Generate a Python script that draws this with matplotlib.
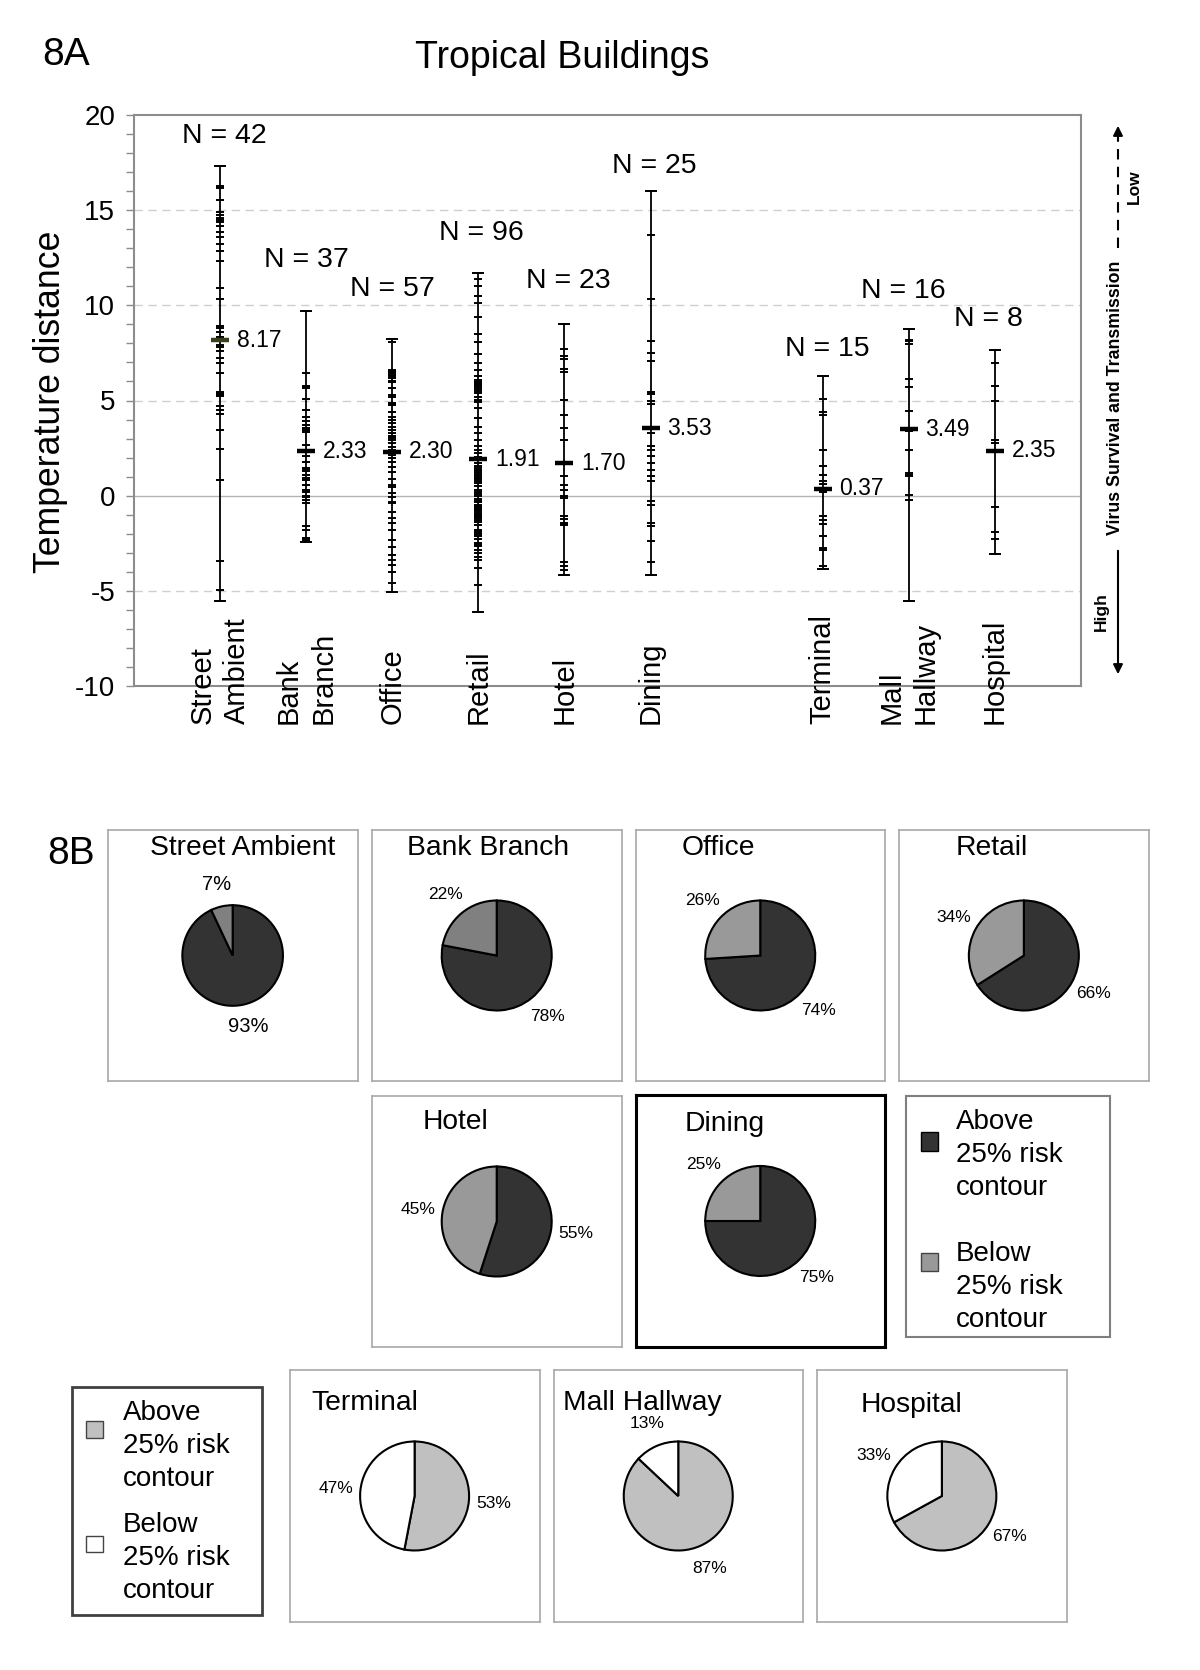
import numpy as np
import matplotlib
matplotlib.use('Agg')
import matplotlib.pyplot as plt
from matplotlib.ticker import MultipleLocator
from matplotlib.patches import Rectangle, FancyArrowPatch
from matplotlib.lines import Line2D

plt.rcParams['font.family'] = ['Liberation Sans', 'DejaVu Sans']
plt.rcParams['axes.unicode_minus'] = False

# ---------------- data: 8A ----------------
categories = ['Street\nAmbient', 'Bank\nBranch', 'Office', 'Retail', 'Hotel',
              'Dining', 'Terminal', 'Mall\nHallway', 'Hospital']
n_counts = [42, 37, 57, 96, 23, 25, 15, 16, 8]
means = [8.17, 2.33, 2.30, 1.91, 1.70, 3.53, 0.37, 3.49, 2.35]

street_ambient = [17.33, 16.29, 16.22, 16.19, 15.56, 14.88, 14.76, 14.58, 14.5, 14.4,
                  14.15, 13.83, 13.57, 13.2, 12.85, 12.33, 10.93, 10.35, 8.9, 8.8,
                  8.62, 8.35, 7.94, 7.83, 7.6, 7.22, 6.95, 6.43, 5.43, 5.38, 5.35,
                  5.3, 5.24, 4.7, 4.5, 4.3, 3.45, 2.45, 0.84, -3.42, -4.95, -5.55]
bank_branch = [9.71, 6.47, 5.77, 5.72, 5.69, 5.65, 5.06, 4.5, 4.15, 3.9, 3.71, 3.55,
               3.45, 3.36, 2.64, 2.4, 2.08, 1.79, 1.44, 1.38, 1.31, 1.09, 0.95, 0.82,
               0.56, 0.3, 0.21, 0.0, -0.05, -0.23, -0.4, -1.6, -1.8, -2.24, -2.3,
               -2.36, -2.41]
office = [8.22, 8.05, 6.62, 6.57, 6.5, 6.43, 6.35, 6.3, 6.16, 6.05, 5.99, 5.64, 5.29,
          5.17, 4.85, 4.8, 4.78, 4.76, 4.4, 4.15, 3.98, 3.8, 3.63, 3.45, 3.27, 3.15,
          3.1, 3.01, 2.9, 2.78, 2.57, 2.4, 2.22, 2.14, 1.96, 1.79, 1.5, 1.26, 0.86,
          0.55, 0.47, 0.12, -0.05, -0.32, -0.4, -0.84, -1.19, -1.45, -1.8, -2.33,
          -2.7, -3.12, -3.38, -3.64, -4.0, -4.6, -5.05]
retail = [11.68, 11.4, 11.02, 10.49, 10.14, 9.4, 8.47, 8.07, 7.42, 6.98, 6.6, 6.28,
          6.1, 6.0, 5.95, 5.92, 5.85, 5.8, 5.75, 5.7, 5.6, 5.5, 5.4, 5.2, 5.05, 5.0,
          4.96, 4.9, 4.6, 4.09, 3.6, 3.3, 2.95, 2.6, 2.4, 2.25, 2.05, 1.93, 1.85,
          1.72, 1.54, 1.45, 1.37, 1.3, 1.2, 1.1, 1.02, 0.95, 0.85, 0.75, 0.67, 0.49,
          0.32, 0.2, 0.1, -0.04, -0.15, -0.3, -0.35, -0.47, -0.56, -0.6, -0.65,
          -0.7, -0.74, -0.82, -0.91, -0.95, -1.0, -1.05, -1.09, -1.13, -1.17, -1.26,
          -1.4, -1.55, -1.79, -1.84, -1.88, -1.92, -1.96, -2.0, -2.05, -2.1, -2.14,
          -2.3, -2.49, -2.6, -2.67, -2.84, -3.02, -3.2, -3.37, -3.8, -4.68, -6.09]
hotel = [9.0, 7.68, 7.33, 7.16, 6.63, 6.49, 5.05, 4.26, 3.56, 2.95, 1.02, 0.58, 0.32,
         -0.04, -0.12, -1.09, -1.23, -1.44, -1.53, -3.46, -3.68, -3.93, -4.16]
dining = [16.03, 13.68, 10.32, 8.12, 7.47, 7.07, 5.44, 5.32, 4.96, 4.84, 3.3, 2.63,
          2.39, 2.07, 1.72, 1.37, 1.02, 0.79, -0.3, -0.47, -1.44, -1.61, -2.4,
          -3.46, -4.16]
terminal = [6.3, 5.1, 4.4, 4.26, 2.42, 1.54, 1.1, 0.75, 0.63, 0.18, -1.09, -1.26,
            -1.47, -2.1, -2.75, -2.87, -3.68, -3.85]
mall_hallway = [8.76, 8.16, 8.1, 7.99, 6.15, 5.69, 4.47, 3.5, 3.38, 2.42, 1.19, 1.1,
                1.02, 0.05, -0.25, -5.55]
hospital = [7.67, 6.97, 5.78, 4.99, 2.94, 2.77, -0.6, -1.93, -2.28, -3.05]

series = [street_ambient, bank_branch, office, retail, hotel, dining,
          terminal, mall_hallway, hospital]

# ---------------- data: 8B ----------------
pie_titles = ['Street Ambient', 'Bank Branch', 'Office', 'Retail', 'Hotel',
              'Dining', 'Terminal', 'Mall Hallway', 'Hospital']
pct_above = [93, 78, 74, 66, 55, 75, 53, 87, 67]
pct_below = [7, 22, 26, 34, 45, 25, 47, 13, 33]
legend_labels = ['Above\n25% risk\ncontour', 'Below\n25% risk\ncontour']

# ---------------- layout / style ----------------
W, H = 1200, 1670
fig = plt.figure(figsize=(W / 100, H / 100), dpi=100)


def fx(x):
    return x / W


def fy(y):
    return 1 - y / H


def px_axes(x0, y0, x1, y1):
    return fig.add_axes([x0 / W, 1 - y1 / H, (x1 - x0) / W, (y1 - y0) / H])


def ftxt(x, y, s, **kw):
    return fig.text(fx(x), fy(y), s, **kw)


positions = [1, 2, 3, 4, 5, 6, 8, 9, 10]
n_label_gap = [1.56, 2.69, 2.66, 2.12, 2.29, 1.29, 1.41, 2.01, 1.59]
n_label_dx = [0.05, 0.0, 0.0, 0.03, 0.04, 0.04, 0.05, -0.06, -0.08]
mean_colors = ['#3c3f1c'] + ['black'] * 8

# ---------------- 8A ----------------
ax = px_axes(134, 115, 1081, 686)
ax.set_xlim(0, 11)
ax.set_ylim(-10, 20)
for v in (-5, 5, 10, 15):
    ax.axhline(v, color='#cfcfcf', lw=1, ls=(0, (6, 4)), zorder=0)
ax.axhline(0, color='#b4b4b4', lw=1, zorder=0)
for sp in ax.spines.values():
    sp.set_color('#8c8c8c')
    sp.set_linewidth(1.5)
ax.set_xticks([])
ax.set_yticks(np.arange(-10, 21, 5))
ax.yaxis.set_minor_locator(MultipleLocator(1))
ax.tick_params(axis='y', which='both', direction='out', length=5.5, width=1,
               color='#8c8c8c', labelsize=20, pad=8)

for i, (pos, vals) in enumerate(zip(positions, series)):
    lo, hi = min(vals), max(vals)
    ax.vlines(pos, lo, hi, color='black', lw=1.3, zorder=2)
    ax.plot([pos] * len(vals), vals, ls='none', marker='_', ms=5.5, mew=1.4,
            color='black', zorder=3)
    ax.plot([pos, pos], [lo, hi], ls='none', marker='_', ms=8, mew=1.4,
            color='black', zorder=3)
    ax.plot([pos], [means[i]], ls='none', marker='_', ms=13, mew=3.2,
            color=mean_colors[i], zorder=4)
    ax.annotate(f'{means[i]:.2f}', (pos, means[i]), xytext=(12, 0),
                textcoords='offset points', ha='left', va='center', fontsize=16.5)
    ax.text(pos + n_label_dx[i], hi + n_label_gap[i], f'N = {n_counts[i]}',
            ha='center', va='center', fontsize=20.5)
    ax.text(pos, -12.0, categories[i], rotation=90, ha='center', va='bottom',
            multialignment='left', fontsize=21, clip_on=False, linespacing=1.3)

ftxt(66, 55, '8A', ha='center', va='center', fontsize=28)
ftxt(562, 58, 'Tropical Buildings', ha='center', va='center', fontsize=27)
ftxt(51, 402, 'Temperature distance', rotation=90, ha='center', va='center',
     fontsize=25.7)

# right side arrow annotation
xa = 1118
fig.add_artist(Line2D([fx(xa)] * 2, [fy(248), fy(138)], color='black', lw=1.5,
                      ls=(0, (5, 3.5))))
fig.add_artist(FancyArrowPatch((fx(xa), fy(142)), (fx(xa), fy(123)),
                               transform=fig.transFigure, arrowstyle='-|>',
                               mutation_scale=14, color='black', lw=1.5))
fig.add_artist(FancyArrowPatch((fx(xa), fy(548)), (fx(xa), fy(677)),
                               transform=fig.transFigure, arrowstyle='-|>',
                               mutation_scale=14, color='black', lw=1.5))
ftxt(1116, 398, 'Virus Survival and Transmission', rotation=90, ha='center',
     va='center', fontsize=12.8, fontweight='bold')
ftxt(1134, 187, 'Low', rotation=90, ha='center', va='center', fontsize=12.5,
     fontweight='bold')
ftxt(1101, 612, 'High', rotation=90, ha='center', va='center', fontsize=12.5,
     fontweight='bold')

# ---------------- 8B ----------------
panel_boxes = [(107.5, 830, 357.8, 1081), (371.6, 830, 621.8, 1081),
               (635.5, 830, 885, 1081), (898.7, 830, 1149, 1081),
               (371.6, 1096, 621.8, 1347), (635.5, 1095, 885, 1347),
               (289.5, 1370, 539.7, 1622), (553.5, 1370, 803, 1622),
               (816.7, 1370, 1067, 1622)]
title_xy = [(242.5, 848), (488, 848), (718.6, 848), (991.4, 848), (455.8, 1122),
            (724.7, 1124), (364.8, 1403), (642, 1403), (911.6, 1405)]
pie_radius = [50.3, 55, 55, 55, 55, 55, 54.5, 54.5, 54.5]
pie_fs = [14.5, 12.5, 12.5, 12.5, 12.5, 12.5, 12.5, 12.5, 12.5]
panel_edge = ['#a8a8a8'] * 5 + ['black'] + ['#a8a8a8'] * 3
panel_lw = [1.2] * 5 + [2.2] + [1.2] * 3
col_above = ['#333333'] * 6 + ['#c0c0c0'] * 3
col_below = ['#808080', '#808080', '#999999', '#999999', '#999999', '#999999',
             'white', 'white', 'white']

for i in range(9):
    x0, y0, x1, y1 = panel_boxes[i]
    fr = px_axes(x0, y0, x1, y1)
    fr.set_xticks([])
    fr.set_yticks([])
    for sp in fr.spines.values():
        sp.set_color(panel_edge[i])
        sp.set_linewidth(panel_lw[i])
    cx, cy = (x0 + x1) / 2, (y0 + y1) / 2
    r = pie_radius[i]
    pa = px_axes(cx - r, cy - r, cx + r, cy + r)
    wedges, texts = pa.pie([pct_above[i], pct_below[i]],
                           colors=[col_above[i], col_below[i]],
                           startangle=90, counterclock=False,
                           labels=[f'{pct_above[i]}%', f'{pct_below[i]}%'],
                           labeldistance=1.45,
                           wedgeprops=dict(edgecolor='black', linewidth=1.5),
                           textprops=dict(fontsize=pie_fs[i]))
    for t in texts:
        t.set_ha('center')
        t.set_va('center')
        t.set_clip_on(False)
    pa.set_aspect('auto')
    pa.set_xlim(-1, 1)
    pa.set_ylim(-1, 1)
    pa.axis('off')
    tx, ty = title_xy[i]
    ftxt(tx, ty, pie_titles[i], ha='center', va='center', fontsize=20.3)

ftxt(71, 854, '8B', ha='center', va='center', fontsize=28)


def fig_rect(x0, y0, x1, y1, **kw):
    fig.add_artist(Rectangle((fx(x0), fy(y1)), (x1 - x0) / W, (y1 - y0) / H,
                             transform=fig.transFigure, **kw))


# legend 1 (dark / gray)
fig_rect(906, 1096, 1110, 1337, facecolor='white', edgecolor='#7f7f7f', lw=1.5)
fig_rect(921, 1132, 938.5, 1151, facecolor='#333333', edgecolor='black', lw=1)
fig_rect(921, 1253, 938.5, 1271, facecolor='#999999', edgecolor='#444444', lw=1)
ftxt(956, 1155, legend_labels[0], ha='left', va='center', fontsize=20,
     linespacing=1.33)
ftxt(956, 1287, legend_labels[1], ha='left', va='center', fontsize=20,
     linespacing=1.33)

# legend 2 (light gray / white)
fig_rect(71.7, 1386.7, 261.7, 1615, facecolor='white', edgecolor='#404040', lw=2)
fig_rect(86, 1421, 103, 1438, facecolor='#c0c0c0', edgecolor='#444444', lw=1)
fig_rect(86, 1536, 103, 1552, facecolor='white', edgecolor='#444444', lw=1)
ftxt(123, 1446, legend_labels[0], ha='left', va='center', fontsize=20,
     linespacing=1.33)
ftxt(123, 1558, legend_labels[1], ha='left', va='center', fontsize=20,
     linespacing=1.33)

fig.savefig('out.png', dpi=100)
